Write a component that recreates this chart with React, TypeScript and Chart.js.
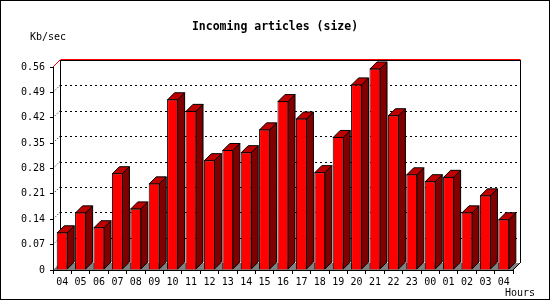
import React, { useEffect, useRef } from "react";
import { Chart, registerables } from "chart.js";

Chart.register(...registerables);

const hours = ["04", "05", "06", "07", "08", "09", "10", "11", "12", "13", "14", "15", "16", "17", "18", "19", "20", "21", "22", "23", "00", "01", "02", "03", "04"];
const kbPerSec = [0.104, 0.159, 0.118, 0.267, 0.170, 0.239, 0.471, 0.439, 0.303, 0.331, 0.325, 0.388, 0.466, 0.418, 0.270, 0.367, 0.512, 0.556, 0.427, 0.264, 0.245, 0.257, 0.159, 0.206, 0.140];
const yTicks = [0, 0.07, 0.14, 0.21, 0.28, 0.35, 0.42, 0.49, 0.56];
const titleText = "Incoming articles (size)";
const yUnit = "Kb/sec";
const xUnit = "Hours";

const MONO = "'DejaVu Sans Mono', monospace";
const DEPTH = 7;

const threeD = {
  id: "threeD",
  beforeDatasetsDraw(chart: any) {
    const { ctx, chartArea } = chart;
    const { left, right, top, bottom } = chartArea;
    const d = DEPTH;
    const ys = chart.scales.y;
    ctx.save();
    // floor
    ctx.fillStyle = "#808080";
    ctx.beginPath();
    ctx.moveTo(left, bottom);
    ctx.lineTo(right, bottom);
    ctx.lineTo(right + d, bottom - d);
    ctx.lineTo(left + d, bottom - d);
    ctx.closePath();
    ctx.fill();
    ctx.strokeStyle = "#000";
    ctx.lineWidth = 1;
    // dotted grid on back wall
    ctx.setLineDash([2, 3]);
    for (let i = 1; i < yTicks.length - 1; i++) {
      const y = Math.round(ys.getPixelForValue(yTicks[i]) - d) + 0.5;
      ctx.beginPath();
      ctx.moveTo(left + d, y);
      ctx.lineTo(right + d, y);
      ctx.stroke();
    }
    // little diagonal marks on the left wall
    ctx.setLineDash([1, 2]);
    for (let i = 1; i < yTicks.length - 1; i++) {
      const y = ys.getPixelForValue(yTicks[i]);
      ctx.beginPath();
      ctx.moveTo(left, y);
      ctx.lineTo(left + d, y - d);
      ctx.stroke();
    }
    ctx.setLineDash([]);
    // back wall verticals
    const bl = Math.round(left + d) + 0.5;
    const br = Math.round(right + d) + 0.5;
    ctx.beginPath();
    ctx.moveTo(bl, top - d);
    ctx.lineTo(bl, bottom - d);
    ctx.moveTo(br, top - d);
    ctx.lineTo(br, bottom - d);
    ctx.stroke();
    // floor right edge
    ctx.beginPath();
    ctx.moveTo(right, bottom);
    ctx.lineTo(right + d, bottom - d);
    ctx.stroke();
    // top frame: black and red
    const ty = Math.round(top - d) + 0.5;
    ctx.beginPath();
    ctx.moveTo(bl, ty);
    ctx.lineTo(br, ty);
    ctx.stroke();
    ctx.strokeStyle = "#ff0000";
    ctx.beginPath();
    ctx.moveTo(bl, ty - 1);
    ctx.lineTo(br, ty - 1);
    ctx.moveTo(left, top);
    ctx.lineTo(left + d, top - d);
    ctx.stroke();
    // front axes
    ctx.strokeStyle = "#000";
    const fl = Math.round(left) + 0.5;
    const fb = Math.round(bottom) + 0.5;
    ctx.beginPath();
    ctx.moveTo(fl, top);
    ctx.lineTo(fl, fb);
    ctx.lineTo(right, fb);
    ctx.stroke();
    ctx.restore();
  },
  afterDatasetsDraw(chart: any) {
    const { ctx } = chart;
    const d = DEPTH;
    const meta = chart.getDatasetMeta(0);
    ctx.save();
    ctx.strokeStyle = "#000";
    ctx.lineWidth = 1;
    ctx.lineJoin = "miter";
    meta.data.forEach((el: any) => {
      const { x, y, base, width } = el.getProps(["x", "y", "base", "width"], true);
      const xl = x - width / 2 + 0.5;
      const xr = x + width / 2 - 0.5;
      const yt = y + 0.5;
      const yb = base - 0.5;
      // side
      ctx.fillStyle = "#800000";
      ctx.beginPath();
      ctx.moveTo(xr, yt);
      ctx.lineTo(xr + d, yt - d);
      ctx.lineTo(xr + d, yb - d);
      ctx.lineTo(xr, yb);
      ctx.closePath();
      ctx.fill();
      ctx.stroke();
      // top
      ctx.fillStyle = "#c00000";
      ctx.beginPath();
      ctx.moveTo(xl, yt);
      ctx.lineTo(xl + d, yt - d);
      ctx.lineTo(xr + d, yt - d);
      ctx.lineTo(xr, yt);
      ctx.closePath();
      ctx.fill();
      ctx.stroke();
    });
    ctx.restore();
  },
  afterDraw(chart: any) {
    const { ctx } = chart;
    ctx.save();
    ctx.fillStyle = "#000";
    ctx.textBaseline = "middle";
    ctx.font = `bold 11.5px ${MONO}`;
    ctx.textAlign = "center";
    ctx.fillText(titleText, 275, 27);
    ctx.font = `10px ${MONO}`;
    ctx.textAlign = "left";
    ctx.fillText(yUnit, 30, 37.5);
    ctx.fillText(xUnit, 505, 293);
    ctx.strokeStyle = "#000";
    ctx.lineWidth = 1;
    ctx.strokeRect(0.5, 0.5, 549, 299);
    ctx.restore();
  },
};

export default function App() {
  const ref = useRef<HTMLCanvasElement | null>(null);
  useEffect(() => {
    if (!ref.current) return;
    const chart = new Chart(ref.current, {
      type: "bar",
      data: {
        labels: hours,
        datasets: [
          {
            data: kbPerSec,
            backgroundColor: "#ff0000",
            borderColor: "#000000",
            borderWidth: 1,
            barPercentage: 0.6,
            categoryPercentage: 1,
          },
        ],
      },
      options: {
        responsive: false,
        animation: false,
        devicePixelRatio: 1,
        layout: { padding: { top: 67, right: 37, left: 0, bottom: 0 } },
        plugins: {
          legend: { display: false },
          title: { display: false },
          tooltip: { enabled: false },
        },
        scales: {
          x: {
            offset: true,
            afterFit: (s: any) => {
              s.height = 30;
            },
            grid: {
              offset: true,
              drawOnChartArea: false,
              drawTicks: true,
              tickLength: 4,
              color: "#000",
            },
            border: { display: false },
            ticks: {
              color: "#000",
              padding: 2,
              maxRotation: 0,
              autoSkip: false,
              font: { family: "DejaVu Sans Mono", size: 10 },
            },
          },
          y: {
            min: 0,
            max: 0.56,
            afterFit: (s: any) => {
              s.width = 53;
            },
            afterBuildTicks: (s: any) => {
              s.ticks = yTicks.map((v) => ({ value: v }));
            },
            grid: {
              drawOnChartArea: false,
              drawTicks: true,
              tickLength: 3,
              color: "#000",
            },
            border: { display: false },
            ticks: {
              color: "#000",
              padding: 5,
              font: { family: "DejaVu Sans Mono", size: 10 },
              callback: (v: any) => (Number(v) === 0 ? "0" : Number(v).toFixed(2)),
            },
          },
        },
      },
      plugins: [threeD],
    });
    return () => chart.destroy();
  }, []);
  return (
    <div style={{ position: "fixed", left: 0, top: 0, width: 550, height: 300, background: "#fff" }}>
      <canvas ref={ref} width={550} height={300} style={{ display: "block", width: 550, height: 300 }} />
    </div>
  );
}
